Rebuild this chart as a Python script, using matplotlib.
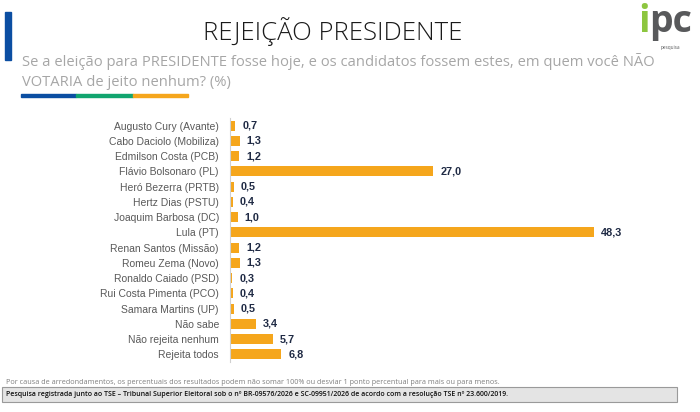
import matplotlib.pyplot as plt
from matplotlib.patches import Rectangle

categories = ["Augusto Cury (Avante)", "Cabo Daciolo (Mobiliza)", "Edmilson Costa (PCB)",
              "Flávio Bolsonaro (PL)", "Heró Bezerra (PRTB)", "Hertz Dias (PSTU)",
              "Joaquim Barbosa (DC)", "Lula (PT)", "Renan Santos (Missão)", "Romeu Zema (Novo)",
              "Ronaldo Caiado (PSD)", "Rui Costa Pimenta (PCO)", "Samara Martins (UP)",
              "Não sabe", "Não rejeita nenhum", "Rejeita todos"]
values = [0.7, 1.3, 1.2, 27.0, 0.5, 0.4, 1.0, 48.3, 1.2, 1.3, 0.3, 0.4, 0.5, 3.4, 5.7, 6.8]

title = "REJEIÇÃO PRESIDENTE"
subtitle = ["Se a eleição para PRESIDENTE fosse hoje, e os candidatos fossem estes, em quem você NÃO",
            "VOTARIA de jeito nenhum? (%)"]
footnote = ("Por causa de arredondamentos, os percentuais dos resultados podem não somar 100% "
            "ou desviar 1 ponto percentual para mais ou para menos.")
registro = ("Pesquisa registrada junto ao TSE – Tribunal Superior Eleitoral sob o nº BR-09576/2026 "
            "e SC-09951/2026 de acordo com a resolução TSE nº 23.600/2019.")

W, H = 700, 412
fig = plt.figure(figsize=(7, 4.12), dpi=100)

def px(x, y):
    return x / W, 1 - y / H

# header
fig.add_artist(Rectangle(px(5, 60), 6 / W, 48 / H, color="#0b4ea2", transform=fig.transFigure))
fig.text(*px(333, 32), title, ha="center", va="center", fontsize=18.5,
         family="Open Sans", fontweight="light", color="#1a1a1a")
fig.text(*px(22, 61), subtitle[0], ha="left", va="center", fontsize=10.6,
         family="Open Sans", color="#a6a6a6")
fig.text(*px(22, 82), subtitle[1], ha="left", va="center", fontsize=10.6,
         family="Open Sans", color="#a6a6a6")
for x0, x1, c in [(21, 76, "#0b4ea2"), (76, 133, "#12a56f"), (133, 188, "#f5a61c")]:
    fig.add_artist(Rectangle(px(x0, 97), (x1 - x0) / W, 3 / H, color=c, transform=fig.transFigure))

# logo
fig.text(*px(638, 22), "i", ha="left", va="center", fontsize=27, fontweight="bold",
         family="Open Sans", color="#8dc63f")
fig.text(*px(649, 22), "pc", ha="left", va="center", fontsize=27, fontweight="bold",
         family="Open Sans", color="#58595b")
fig.text(*px(670, 47), "pesquisa", ha="center", va="center", fontsize=3.4,
         family="Open Sans", color="#58595b")

# chart
ax = fig.add_axes([230 / W, 1 - 362 / H, 414 / W, 244 / H])
y = range(len(categories))
ax.barh(y, values, height=0.66, color="#f5a61c")
ax.set_xlim(0, 55)
ax.set_ylim(len(categories) - 0.5, -0.5)
ax.set_yticks(list(y))
ax.set_yticklabels(categories, fontsize=7.5, family="Liberation Sans", color="#595959")
ax.tick_params(axis="y", length=0, pad=8)
ax.set_xticks([])
for s in ["top", "right", "bottom"]:
    ax.spines[s].set_visible(False)
ax.spines["left"].set_color("#d0d0d0")
ax.spines["left"].set_linewidth(0.8)
for i, v in enumerate(values):
    ax.annotate(f"{v:.1f}".replace(".", ","), (v, i), xytext=(5, 0), textcoords="offset points",
                ha="left", va="center", fontsize=7.8, fontweight="bold",
                family="Liberation Sans", color="#1f2a44")

# footer
fig.text(*px(6, 382), footnote, ha="left", va="center", fontsize=5.2,
         family="Open Sans", color="#7f7f7f")
fig.add_artist(Rectangle(px(2, 402), 675 / W, 15 / H, facecolor="#e4e4e4",
                         edgecolor="#9a9a9a", linewidth=0.8, transform=fig.transFigure))
fig.text(*px(6, 394.5), registro, ha="left", va="center", fontsize=5.0,
         family="Open Sans", fontweight="semibold", color="#111111")

fig.savefig("out.png", dpi=100)
